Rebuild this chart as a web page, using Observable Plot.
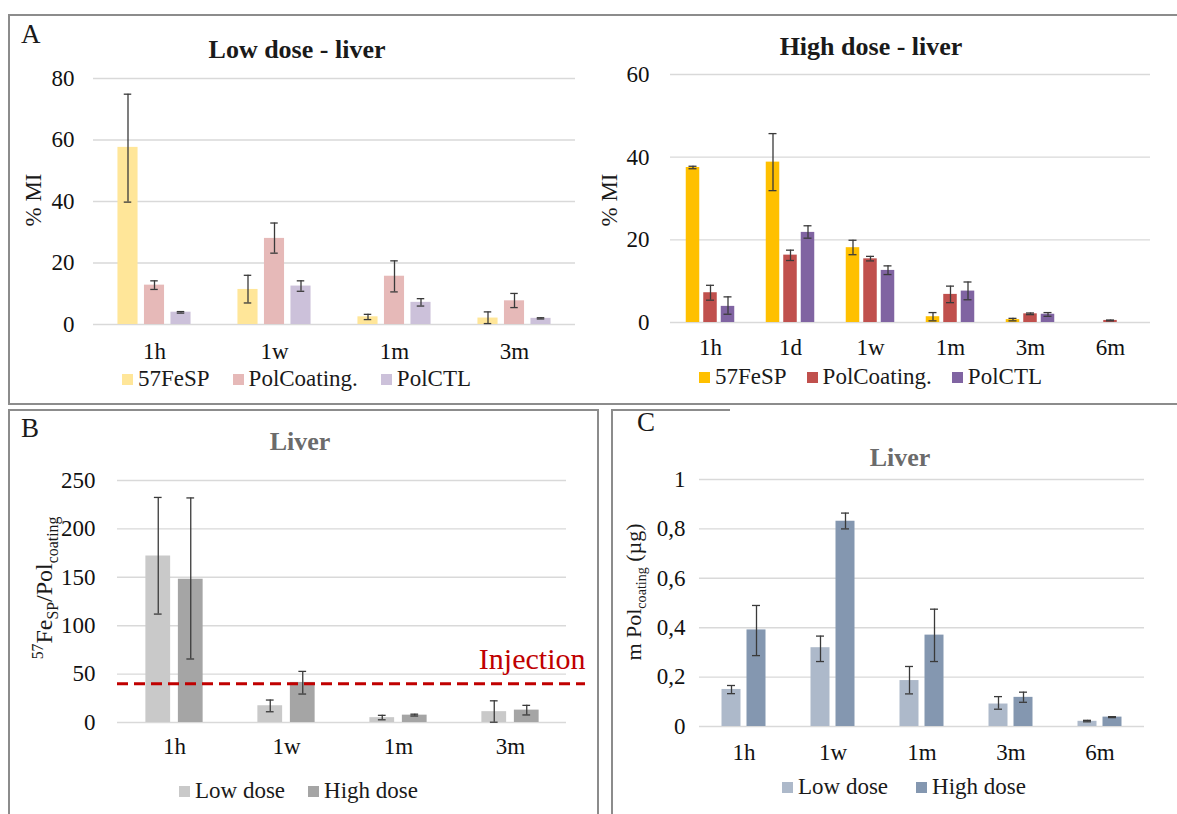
<!DOCTYPE html>
<html>
<head>
<meta charset="utf-8">
<script src="https://cdn.jsdelivr.net/npm/d3@7"></script>
<script src="https://cdn.jsdelivr.net/npm/@observablehq/plot@0.6"></script>
<style>
  html, body { margin: 0; padding: 0; background: #fff; }
  body { font-family: "Liberation Serif", "Tinos", "DejaVu Serif", serif; color: #1a1a1a; }
  #page { position: relative; width: 1177px; height: 814px; overflow: hidden; background: #fff; }
  .box { position: absolute; border: 2px solid #8c8c8c; box-sizing: border-box; }
  .abs { position: absolute; white-space: nowrap; }
  .center { transform: translate(-50%, -50%); }
  .title { font-weight: bold; font-size: 26px; }
  .gtitle { font-weight: bold; font-size: 26px; color: #6b6b6b; }
  .letter { font-size: 27px; transform: translateY(-50%); }
  .ylab { transform: translate(-50%, -50%) rotate(-90deg); font-size: 23px; line-height: 1; }
  .ylab sub, .ylab sup { line-height: 0; }
  .legend { display: flex; align-items: center; transform: translateY(-50%); font-size: 23px; }
  .legend .sw { display: inline-block; width: 11px; height: 11px; margin-right: 5px; }
  .plot { position: absolute; }
</style>
</head>
<body>
<div id="page">
  <div class="box" style="left:8px; top:14px; width:1200px; height:391px;"></div>
  <div class="box" style="left:8px; top:409px; width:591px; height:420px;"></div>
  <div class="box" style="left:611px; top:409px; width:600px; height:420px; border-top:none;"></div>
  <div class="abs" style="left:611px; top:409px; width:119px; height:2px; background:#8c8c8c;"></div>

  <div class="abs letter" style="left:21px; top:34px;">A</div>
  <div class="abs letter" style="left:21px; top:428px;">B</div>
  <div class="abs letter" style="left:637px; top:422px;">C</div>

  <div class="abs title center" style="left:297px; top:50px;">Low dose - liver</div>
  <div class="abs title center" style="left:871px; top:47px;">High dose - liver</div>
  <div class="abs gtitle center" style="left:300px; top:442px;">Liver</div>
  <div class="abs gtitle center" style="left:900px; top:458px;">Liver</div>

  <div class="abs ylab" style="left:33px; top:200px;">% MI</div>
  <div class="abs ylab" style="left:609px; top:200px;">% MI</div>
  <div class="abs ylab" style="left:44px; top:588px; font-size:24px;"><sup style="font-size:0.66em">57</sup>Fe<sub style="font-size:0.66em">SP</sub>/Pol<sub style="font-size:0.66em">coating</sub></div>
  <div class="abs ylab" style="left:634px; top:592px; font-size:22px;">m Pol<sub style="font-size:0.64em">coating</sub> (µg)</div>

  <div id="legA1" class="abs legend" style="left:122px; top:379px;"></div>
  <div id="legA2" class="abs legend" style="left:699px; top:377px;"></div>
  <div id="legB" class="abs legend" style="left:179px; top:791px;"></div>
  <div id="legC" class="abs legend" style="left:782px; top:787px;"></div>
</div>
<script>
// ---------- Data ----------
// Panel A, low dose (% MI)
const aLowCats = ["1h", "1w", "1m", "3m"];
const aLowFeSP = [57.6, 11.4, 2.5, 2.1];
const aLowFeSPLo = [39.8, 7.0, 1.6, 0.3];
const aLowFeSPHi = [74.9, 16.0, 3.3, 4.1];
const aLowCoat = [12.8, 28.0, 15.7, 7.7];
const aLowCoatLo = [11.4, 23.2, 10.6, 5.5];
const aLowCoatHi = [14.2, 33.0, 20.7, 10.1];
const aLowCTL = [4.0, 12.5, 7.2, 2.0];
const aLowCTLLo = [3.7, 10.8, 6.0, 1.8];
const aLowCTLHi = [4.2, 14.2, 8.4, 2.2];

// Panel A, high dose (% MI)
const aHighCats = ["1h", "1d", "1w", "1m", "3m", "6m"];
const aHighFeSP = [37.5, 38.8, 18.1, 1.4, 0.7, null];
const aHighFeSPLo = [37.2, 31.9, 16.4, 0.4, 0.4, null];
const aHighFeSPHi = [37.8, 45.7, 19.9, 2.4, 1.0, null];
const aHighCoat = [7.2, 16.3, 15.4, 6.8, 2.1, 0.5];
const aHighCoatLo = [5.4, 15.0, 14.9, 4.8, 1.9, 0.4];
const aHighCoatHi = [9.0, 17.5, 16.0, 8.8, 2.3, 0.6];
const aHighCTL = [3.9, 21.8, 12.6, 7.6, 2.0, null];
const aHighCTLLo = [2.0, 20.4, 11.6, 5.5, 1.5, null];
const aHighCTLHi = [6.2, 23.4, 13.7, 9.8, 2.4, null];

// Panel B (57FeSP / Polcoating)
const bCats = ["1h", "1w", "1m", "3m"];
const bLow = [172, 17.3, 5.0, 11.2];
const bLowLo = [112, 11.1, 2.8, 0.3];
const bLowHi = [232.5, 23.2, 7.4, 22.4];
const bHigh = [148, 41.4, 7.6, 12.8];
const bHighLo = [65.6, 29.4, 6.7, 7.8];
const bHighHi = [232, 52.8, 8.6, 17.7];
const bInjection = 40;

// Panel C (m Polcoating, µg)
const cCats = ["1h", "1w", "1m", "3m", "6m"];
const cLow = [0.15, 0.319, 0.186, 0.091, 0.021];
const cLowLo = [0.133, 0.263, 0.132, 0.070, 0.019];
const cLowHi = [0.166, 0.366, 0.243, 0.121, 0.025];
const cHigh = [0.391, 0.831, 0.370, 0.118, 0.038];
const cHighLo = [0.287, 0.80, 0.263, 0.098, 0.036];
const cHighHi = [0.49, 0.864, 0.475, 0.139, 0.040];

// Tick values
const aLowTicks = [0, 20, 40, 60, 80];
const aHighTicks = [0, 20, 40, 60];
const bTicks = [0, 50, 100, 150, 200, 250];
const cTicks = [0, 0.2, 0.4, 0.6, 0.8, 1];

// Series names
const aSeriesNames = ["57FeSP", "PolCoating.", "PolCTL"];
const doseNames = ["Low dose", "High dose"];

// Colors
const aLowColors = ["#FFE699", "#E6B9B8", "#CCC1DA"];
const aHighColors = ["#FFC000", "#C0504D", "#8064A2"];
const bColors = ["#C9C9C9", "#A5A5A5"];
const cColors = ["#ADB9CA", "#8497B0"];

// ---------- Drawing ----------
const FONT = "'Liberation Serif', 'Tinos', 'DejaVu Serif', serif";
const ERR = "#3a3a3a";
const GRID = "#d9d9d9";

function rowsOf(cats, v, lo, hi) {
  return cats.map((c, i) => ({cat: c, v: v[i], lo: lo[i], hi: hi[i]}));
}

function groupedChart(o) {
  const {cats, series, ticks, yDomain, width, height, ml, mr, mt, mb, barW, step,
         xRange, tickFormat, tickPadding, xPadding, extra = [], gridInsetRight = 0, capW = 8} = o;
  const r0 = xRange ? xRange[0] : ml;
  const r1 = xRange ? xRange[1] : width - mr;
  const bw = (r1 - r0) / cats.length;
  const n = series.length;
  const marks = [Plot.ruleY(ticks, {stroke: GRID, strokeWidth: 1.4, insetRight: gridInsetRight})];
  series.forEach((s, i) => {
    const off = (i - (n - 1) / 2) * step;
    const il = bw / 2 + off - barW / 2;
    const ir = bw - il - barW;
    const cl = bw / 2 + off - capW / 2;
    const cr = bw - cl - capW;
    marks.push(Plot.barY(s.rows, {x: "cat", y: "v", fill: s.color, insetLeft: il, insetRight: ir}));
    const er = s.rows.filter(d => d.lo != null && d.hi != null);
    marks.push(Plot.ruleX(er, {x: "cat", y1: "lo", y2: "hi", dx: off, stroke: ERR, strokeWidth: 1.3}));
    marks.push(Plot.tickY(er, {x: "cat", y: "lo", insetLeft: cl, insetRight: cr, stroke: ERR, strokeWidth: 1.3}));
    marks.push(Plot.tickY(er, {x: "cat", y: "hi", insetLeft: cl, insetRight: cr, stroke: ERR, strokeWidth: 1.3}));
  });
  marks.push(...extra);
  marks.push(Plot.axisY({ticks, tickSize: 0, tickPadding, tickFormat, label: null}));
  marks.push(Plot.axisX({tickSize: 0, tickPadding: xPadding, label: null}));
  return Plot.plot({
    width, height,
    marginLeft: ml, marginRight: mr, marginTop: mt, marginBottom: mb,
    x: {type: "band", domain: cats, padding: 0, ...(xRange ? {range: xRange} : {})},
    y: {domain: yDomain},
    style: {fontFamily: FONT, fontSize: "23px", color: "#111", background: "transparent", overflow: "visible"},
    marks
  });
}

function place(svg, left, top) {
  svg.classList.add("plot");
  svg.style.left = left + "px";
  svg.style.top = top + "px";
  document.getElementById("page").appendChild(svg);
}

function legend(id, names, colors, gap) {
  const el = document.getElementById(id);
  names.forEach((nm, i) => {
    const item = document.createElement("span");
    item.style.display = "inline-flex";
    item.style.alignItems = "center";
    if (i < names.length - 1) item.style.marginRight = gap + "px";
    item.innerHTML = `<span class="sw" style="background:${colors[i]}"></span><span>${nm}</span>`;
    el.appendChild(item);
  });
}

// Panel A - low dose
place(groupedChart({
  cats: aLowCats,
  series: [
    {rows: rowsOf(aLowCats, aLowFeSP, aLowFeSPLo, aLowFeSPHi), color: aLowColors[0]},
    {rows: rowsOf(aLowCats, aLowCoat, aLowCoatLo, aLowCoatHi), color: aLowColors[1]},
    {rows: rowsOf(aLowCats, aLowCTL, aLowCTLLo, aLowCTLHi), color: aLowColors[2]}
  ],
  ticks: aLowTicks, yDomain: [0, 80],
  width: 600, height: 310, ml: 93, mr: 25, mt: 18, mb: 46,
  barW: 20.6, step: 26.5, tickPadding: 19, xPadding: 18
}), 0, 60);

// Panel A - high dose
place(groupedChart({
  cats: aHighCats,
  series: [
    {rows: rowsOf(aHighCats, aHighFeSP, aHighFeSPLo, aHighFeSPHi), color: aHighColors[0]},
    {rows: rowsOf(aHighCats, aHighCoat, aHighCoatLo, aHighCoatHi), color: aHighColors[1]},
    {rows: rowsOf(aHighCats, aHighCTL, aHighCTLLo, aHighCTLHi), color: aHighColors[2]}
  ],
  ticks: aHighTicks, yDomain: [0, 60],
  width: 580, height: 310, ml: 80, mr: 20, mt: 19, mb: 43,
  barW: 13.5, step: 17.5, tickPadding: 21, xPadding: 16
}), 590, 55);

// Panel B
place(groupedChart({
  cats: bCats,
  series: [
    {rows: rowsOf(bCats, bLow, bLowLo, bLowHi), color: bColors[0]},
    {rows: rowsOf(bCats, bHigh, bHighLo, bHighHi), color: bColors[1]}
  ],
  ticks: bTicks, yDomain: [0, 250],
  width: 590, height: 310, ml: 109, mr: 13, mt: 20, mb: 48,
  xRange: [109, 558], gridInsetRight: 19,
  barW: 25, step: 32.5, tickPadding: 22, xPadding: 15,
  extra: [
    Plot.ruleY([bInjection], {stroke: "#C00000", strokeWidth: 3, strokeDasharray: "11,6"}),
    Plot.text(["Injection"], {y: () => bInjection, frameAnchor: "right", textAnchor: "end", dy: -24,
      fill: "#C00000", fontSize: 30, fontFamily: FONT})
  ]
}), 8, 460);

// Panel C
place(groupedChart({
  cats: cCats,
  series: [
    {rows: rowsOf(cCats, cLow, cLowLo, cLowHi), color: cColors[0]},
    {rows: rowsOf(cCats, cHigh, cHighLo, cHighHi), color: cColors[1]}
  ],
  ticks: cTicks, yDomain: [0, 1],
  width: 566, height: 310, ml: 88, mr: 33, mt: 19, mb: 44,
  barW: 19, step: 25, tickPadding: 14, xPadding: 17,
  tickFormat: d => String(d).replace(".", ",")
}), 611, 460);

legend("legA1", aSeriesNames, aLowColors, 23);
legend("legA2", aSeriesNames, aHighColors, 20);
legend("legB", doseNames, bColors, 23);
legend("legC", doseNames, cColors, 28);
</script>
</body>
</html>
